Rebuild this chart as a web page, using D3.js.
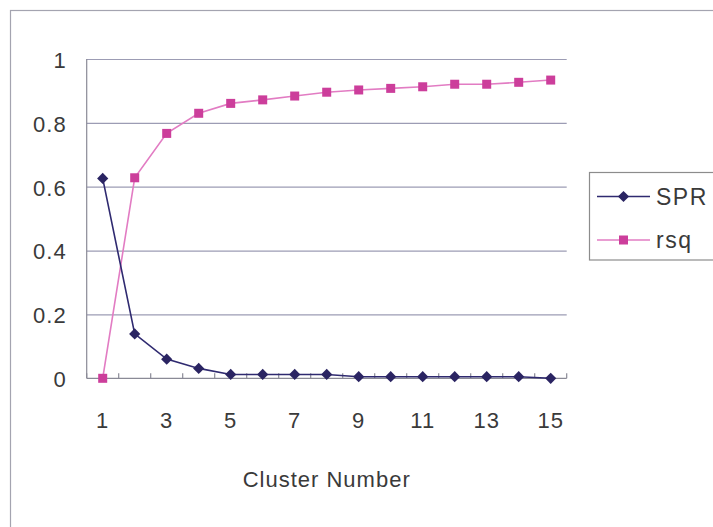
<!DOCTYPE html>
<html>
<head>
<meta charset="utf-8">
<script src="https://cdn.jsdelivr.net/npm/d3@7"></script>
<style>
  html, body { margin: 0; padding: 0; background: #ffffff; }
  svg { display: block; }
  text { font-family: "Liberation Sans", Arial, sans-serif; fill: #3a3a3a; }
</style>
</head>
<body>
<svg id="chart" width="713" height="527"></svg>
<script>
// Cluster count on the x axis, two series of scores against it
const clusters = [1, 2, 3, 4, 5, 6, 7, 8, 9, 10, 11, 12, 13, 14, 15];
const sprValues = [0.626, 0.139, 0.060, 0.031, 0.012, 0.012, 0.012, 0.012, 0.005, 0.005, 0.005, 0.005, 0.005, 0.005, 0.0];
const rsqValues = [0.0, 0.628, 0.767, 0.830, 0.861, 0.872, 0.884, 0.896, 0.903, 0.908, 0.913, 0.921, 0.921, 0.927, 0.934];
const xTickLabels = [1, 3, 5, 7, 9, 11, 13, 15];
const yTickValues = [0, 0.2, 0.4, 0.6, 0.8, 1];
const seriesNames = ["SPR", "rsq"];

const svg = d3.select("#chart");

const plot = { left: 86.7, right: 566.7, top: 59, bottom: 378.3 };

const x = d3.scaleBand().domain(clusters).range([plot.left, plot.right]).padding(0);
const y = d3.scaleLinear().domain([0, 1]).range([plot.bottom, plot.top]);

const colors = {
  SPR: { line: "#2f2a70", marker: "#2a2462" },
  rsq: { line: "#e27cc3", marker: "#cc3e9b" }
};

// Outer chart frame
svg.append("rect")
  .attr("x", 10.5).attr("y", 10.5)
  .attr("width", 740).attr("height", 560)
  .attr("fill", "none").attr("stroke", "#a4a4b0").attr("stroke-width", 1.2);

// Horizontal gridlines and y tick labels
const yAxis = d3.axisLeft(y)
  .tickValues(yTickValues)
  .tickFormat(d3.format("~g"))
  .tickSize(-(plot.right - plot.left))
  .tickPadding(20);
const gy = svg.append("g")
  .attr("transform", `translate(${plot.left},0)`)
  .call(yAxis);
gy.select(".domain").remove();
gy.selectAll(".tick line")
  .attr("stroke", d => d === 0 ? "none" : "#9c9cb4")
  .attr("stroke-width", 1.2);
gy.selectAll(".tick text")
  .attr("font-size", 22).attr("letter-spacing", 1)
  .attr("dy", "0.38em")
  .style("fill", "#3a3a3a");

// Axis lines
svg.append("line")
  .attr("x1", plot.left).attr("x2", plot.left)
  .attr("y1", plot.top).attr("y2", plot.bottom)
  .attr("stroke", "#8a8a96").attr("stroke-width", 1.2);
svg.append("line")
  .attr("x1", plot.left).attr("x2", plot.right)
  .attr("y1", plot.bottom).attr("y2", plot.bottom)
  .attr("stroke", "#8a8a96").attr("stroke-width", 1.2);

// Inside tick marks at category boundaries
const boundaries = d3.range(clusters.length + 1).map(i => plot.left + i * x.step());
svg.append("g").selectAll("line")
  .data(boundaries)
  .join("line")
  .attr("x1", d => d).attr("x2", d => d)
  .attr("y1", plot.bottom).attr("y2", plot.bottom - 5)
  .attr("stroke", "#8a8a96").attr("stroke-width", 1.2);

// X tick labels on odd clusters
const xAxis = d3.axisBottom(x)
  .tickValues(xTickLabels)
  .tickSize(0)
  .tickPadding(34);
const gx = svg.append("g")
  .attr("transform", `translate(0,${plot.bottom})`)
  .call(xAxis);
gx.select(".domain").remove();
gx.selectAll(".tick text")
  .attr("font-size", 22).attr("letter-spacing", 1)
  .style("fill", "#3a3a3a");

// X axis title
svg.append("text")
  .attr("x", (plot.left + plot.right) / 2)
  .attr("y", 487)
  .attr("text-anchor", "middle")
  .attr("font-size", 22).attr("letter-spacing", 1)
  .text("Cluster Number");

const cx = d => x(d) + x.bandwidth() / 2;
const line = d3.line().x(d => cx(d.c)).y(d => y(d.v));

const diamond = d3.symbol().type(d3.symbolDiamond2).size(80);

function drawSeries(values, name, shape) {
  const pts = clusters.map((c, i) => ({ c, v: values[i] }));
  svg.append("path")
    .datum(pts)
    .attr("d", line)
    .attr("fill", "none")
    .attr("stroke", colors[name].line)
    .attr("stroke-width", 1.6);
  const g = svg.append("g");
  if (shape === "square") {
    g.selectAll("rect").data(pts).join("rect")
      .attr("x", d => cx(d.c) - 4.5).attr("y", d => y(d.v) - 4.5)
      .attr("width", 9).attr("height", 9)
      .attr("fill", colors[name].marker);
  } else {
    g.selectAll("path").data(pts).join("path")
      .attr("d", diamond)
      .attr("transform", d => `translate(${cx(d.c)},${y(d.v)})`)
      .attr("fill", colors[name].marker);
  }
}

drawSeries(rsqValues, "rsq", "square");
drawSeries(sprValues, "SPR", "diamond");

// Legend
const legend = svg.append("g");
legend.append("rect")
  .attr("x", 589.5).attr("y", 172.5)
  .attr("width", 140).attr("height", 87.5)
  .attr("fill", "#ffffff").attr("stroke", "#8c8c8c").attr("stroke-width", 1.2);

const legendRows = [
  { name: seriesNames[0], y: 196.5, shape: "diamond" },
  { name: seriesNames[1], y: 240, shape: "square" }
];
legendRows.forEach(r => {
  legend.append("line")
    .attr("x1", 597).attr("x2", 650)
    .attr("y1", r.y).attr("y2", r.y)
    .attr("stroke", colors[r.name].line).attr("stroke-width", 1.6);
  if (r.shape === "square") {
    legend.append("rect")
      .attr("x", 623.5 - 4.5).attr("y", r.y - 4.5)
      .attr("width", 9).attr("height", 9)
      .attr("fill", colors[r.name].marker);
  } else {
    legend.append("path")
      .attr("d", diamond)
      .attr("transform", `translate(623.5,${r.y})`)
      .attr("fill", colors[r.name].marker);
  }
  legend.append("text")
    .attr("x", 656).attr("y", r.y)
    .attr("dy", "0.36em")
    .attr("font-size", 23).attr("letter-spacing", 1.5)
    .text(r.name);
});
</script>
</body>
</html>
